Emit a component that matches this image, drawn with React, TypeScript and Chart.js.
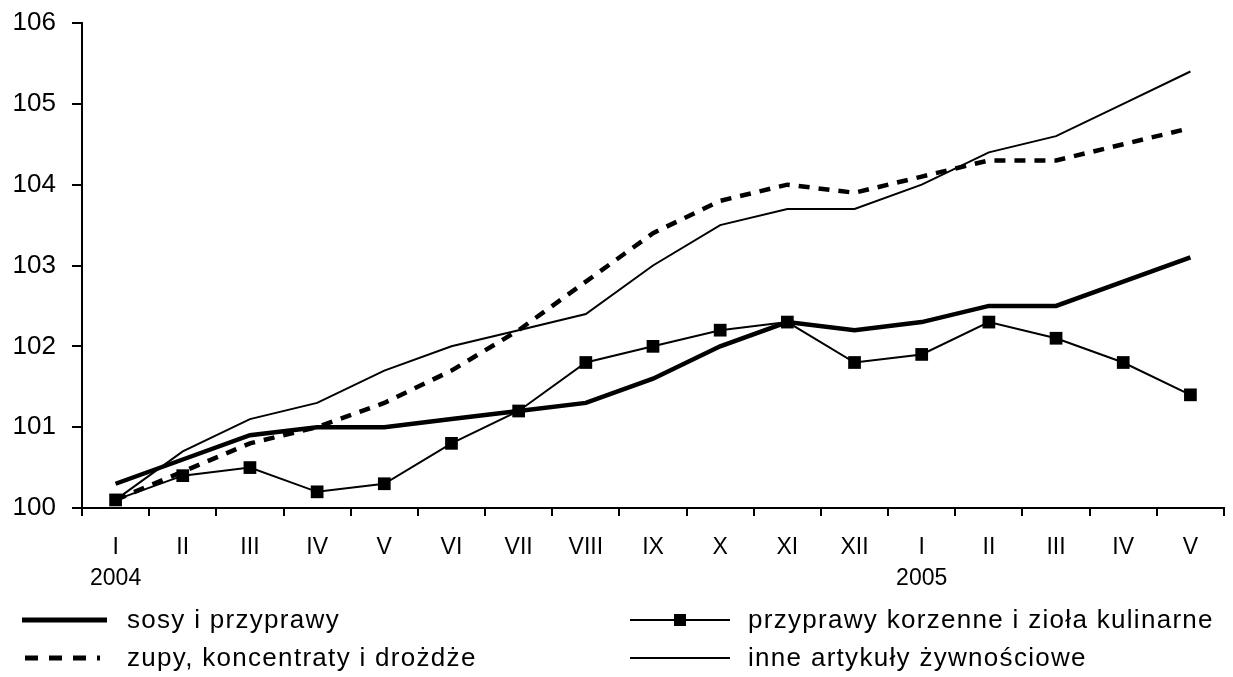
import React, { useEffect, useRef } from "react";
import { Chart, registerables } from "chart.js";

Chart.register(...registerables);

const months = ["I", "II", "III", "IV", "V", "VI", "VII", "VIII", "IX", "X", "XI", "XII", "I", "II", "III", "IV", "V"];
const years = ["2004", "", "", "", "", "", "", "", "", "", "", "", "2005", "", "", "", ""];

const sosy = [100.3, 100.6, 100.9, 101.0, 101.0, 101.1, 101.2, 101.3, 101.6, 102.0, 102.3, 102.2, 102.3, 102.5, 102.5, 102.8, 103.1];
const zupy = [100.1, 100.45, 100.8, 101.0, 101.3, 101.7, 102.2, 102.8, 103.4, 103.8, 104.0, 103.9, 104.1, 104.3, 104.3, 104.5, 104.7];
const korzenne = [100.1, 100.4, 100.5, 100.2, 100.3, 100.8, 101.2, 101.8, 102.0, 102.2, 102.3, 101.8, 101.9, 102.3, 102.1, 101.8, 101.4];
const inne = [100.1, 100.7, 101.1, 101.3, 101.7, 102.0, 102.2, 102.4, 103.0, 103.5, 103.7, 103.7, 104.0, 104.4, 104.6, 105.0, 105.4];

const seriesNames = [
  "sosy i przyprawy",
  "zupy, koncentraty i drożdże",
  "przyprawy korzenne i zioła kulinarne",
  "inne artykuły żywnościowe",
];

const FONT = "'Liberation Sans', Arial, sans-serif";

const legendPlugin = {
  id: "customLegend",
  afterDraw(chart: any) {
    const ctx = chart.ctx as CanvasRenderingContext2D;
    ctx.save();
    ctx.fillStyle = "#000";
    ctx.strokeStyle = "#000";
    ctx.font = `26px ${FONT}`;
    (ctx as any).letterSpacing = "1.3px";
    ctx.textBaseline = "middle";
    ctx.textAlign = "left";

    const rows = [
      { x1: 22, x2: 107, y: 620, tx: 127, w: 5, dash: [] as number[], marker: false, name: seriesNames[0] },
      { x1: 25, x2: 100, y: 658, tx: 127, w: 5, dash: [13, 11], marker: false, name: seriesNames[1] },
      { x1: 630, x2: 730, y: 620, tx: 748, w: 2, dash: [] as number[], marker: true, name: seriesNames[2] },
      { x1: 630, x2: 730, y: 658, tx: 748, w: 2, dash: [] as number[], marker: false, name: seriesNames[3] },
    ];
    for (const r of rows) {
      ctx.lineWidth = r.w;
      ctx.setLineDash(r.dash);
      ctx.beginPath();
      ctx.moveTo(r.x1, r.y);
      ctx.lineTo(r.x2, r.y);
      ctx.stroke();
      ctx.setLineDash([]);
      if (r.marker) {
        const cx = (r.x1 + r.x2) / 2;
        ctx.fillRect(cx - 6, r.y - 6, 12, 12);
      }
      ctx.fillText(r.name, r.tx, r.y + 1);
    }
    ctx.restore();
  },
};

export default function App() {
  const ref = useRef<HTMLCanvasElement | null>(null);

  useEffect(() => {
    if (!ref.current) return;
    const labels = months.map((m, i) => [m, years[i]]);
    const chart = new Chart(ref.current, {
      type: "line",
      data: {
        labels,
        datasets: [
          {
            label: seriesNames[0],
            data: sosy,
            borderColor: "#000",
            borderWidth: 4.5,
            pointRadius: 0,
            tension: 0,
          },
          {
            label: seriesNames[1],
            data: zupy,
            borderColor: "#000",
            borderWidth: 4.5,
            borderDash: [11, 9],
            pointRadius: 0,
            tension: 0,
          },
          {
            label: seriesNames[2],
            data: korzenne,
            borderColor: "#000",
            backgroundColor: "#000",
            borderWidth: 2,
            pointStyle: "rect",
            pointRadius: 9,
            pointBorderWidth: 0,
            pointBackgroundColor: "#000",
            tension: 0,
          },
          {
            label: seriesNames[3],
            data: inne,
            borderColor: "#000",
            borderWidth: 2,
            pointRadius: 0,
            tension: 0,
          },
        ],
      },
      options: {
        responsive: true,
        maintainAspectRatio: false,
        animation: false,
        layout: { padding: { top: 23, right: 9, left: 0, bottom: 0 } },
        plugins: {
          legend: { display: false },
          tooltip: { enabled: false },
        },
        scales: {
          x: {
            type: "category",
            offset: true,
            grid: {
              offset: true,
              drawOnChartArea: false,
              drawTicks: true,
              tickLength: 8,
              color: "#000",
              lineWidth: 2,
            },
            border: { display: true, color: "#000", width: 2 },
            ticks: {
              color: "#000",
              font: { family: FONT, size: 23, lineHeight: 1.35 },
              maxRotation: 0,
              autoSkip: false,
              padding: 16,
            },
            afterFit(scale: any) {
              scale.height = 169;
            },
          },
          y: {
            min: 100,
            max: 106,
            grid: {
              drawOnChartArea: false,
              drawTicks: true,
              tickLength: 10,
              color: "#000",
              lineWidth: 2,
            },
            border: { display: true, color: "#000", width: 2 },
            ticks: {
              stepSize: 1,
              color: "#000",
              font: { family: FONT, size: 26 },
              padding: 16,
            },
            afterFit(scale: any) {
              scale.width = 82;
              scale.paddingTop = 0;
              scale.paddingBottom = 0;
            },
          },
        },
      },
      plugins: [legendPlugin],
    });
    return () => chart.destroy();
  }, []);

  return (
    <div style={{ position: "fixed", left: 0, top: 0, width: 1233, height: 677, background: "#fff" }}>
      <canvas ref={ref} />
    </div>
  );
}
